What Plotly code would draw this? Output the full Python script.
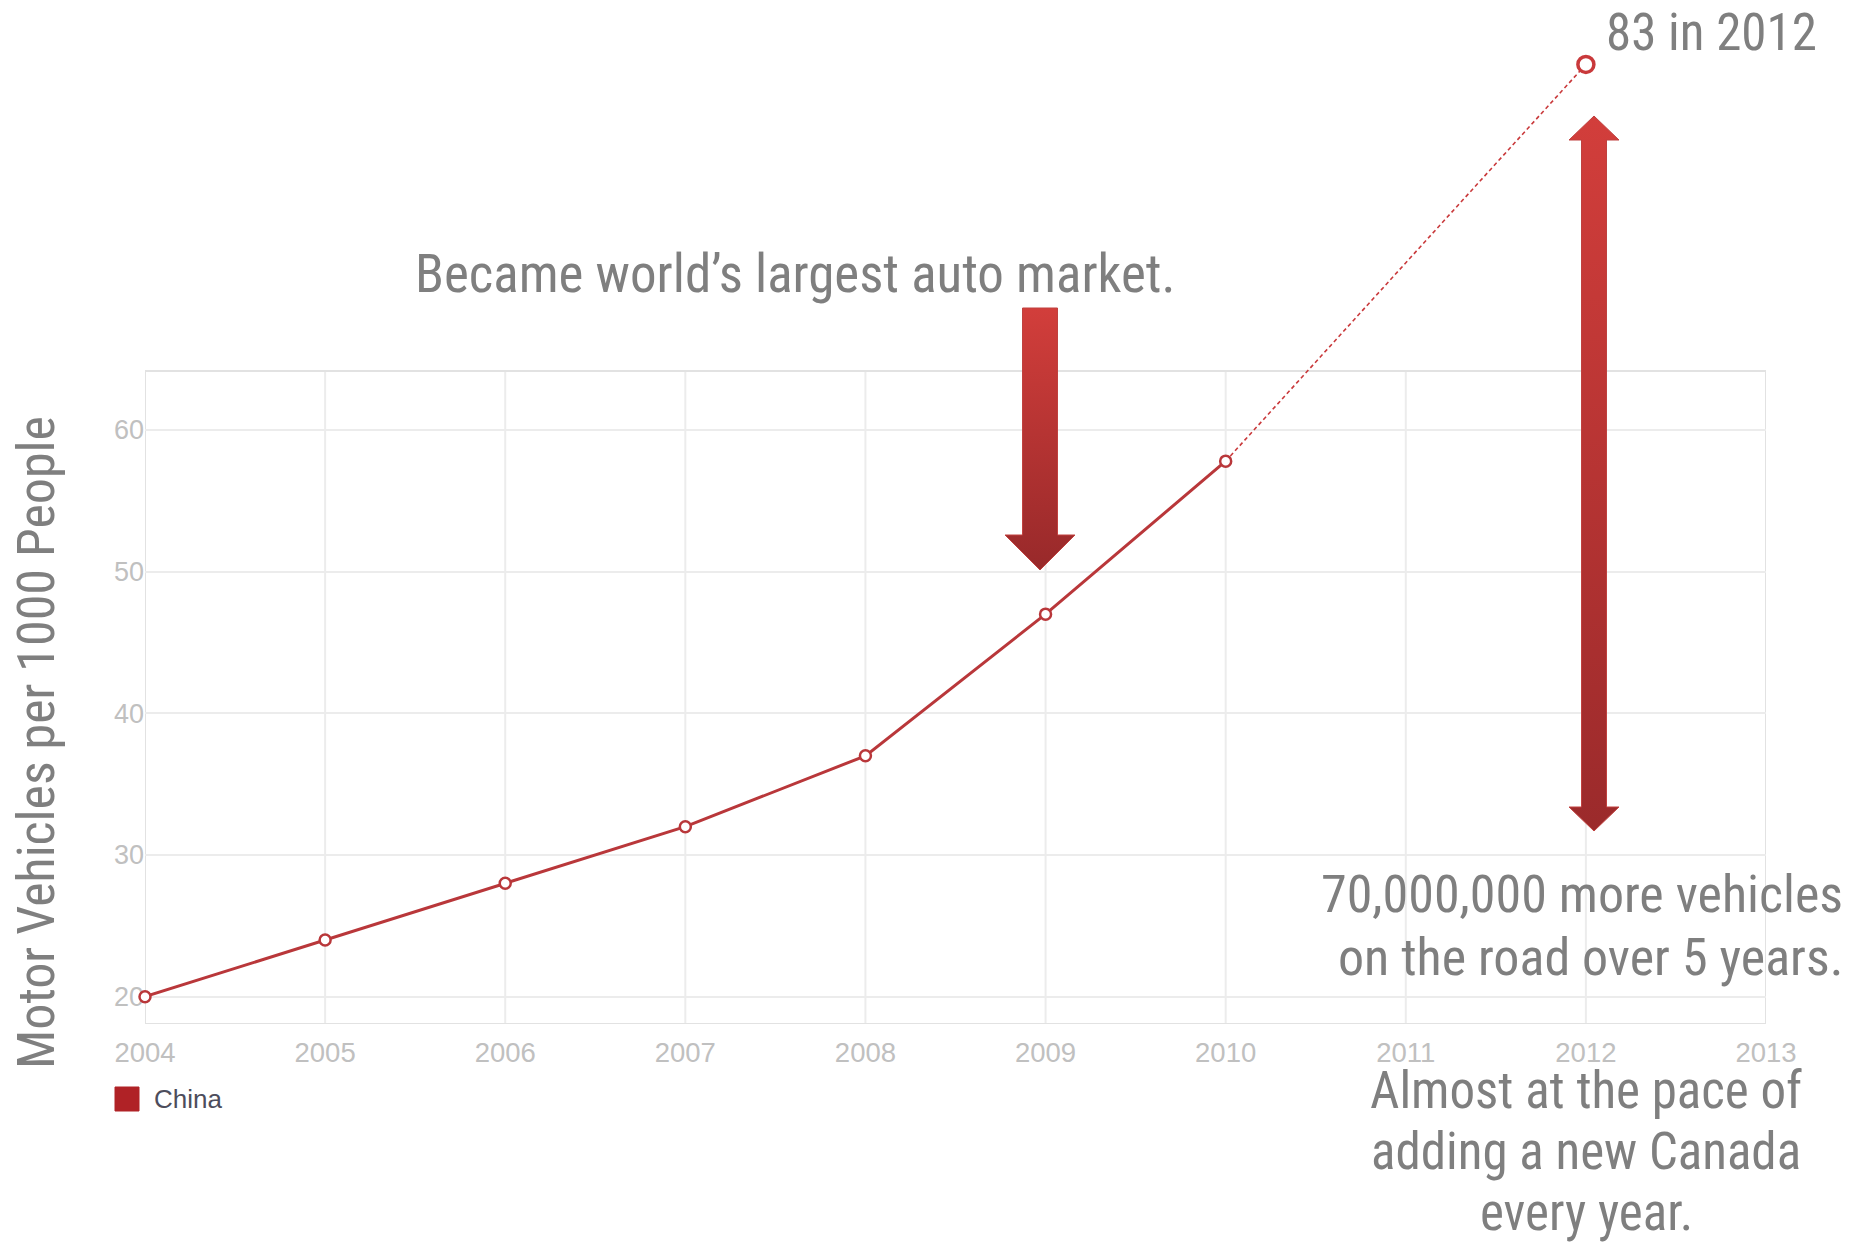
import plotly.graph_objects as go

# ---------------- data ----------------
years = [2004, 2005, 2006, 2007, 2008, 2009, 2010]
china_vehicles_per_1000 = [20, 24, 28, 32, 37, 47, 57.8]
projection_years = [2010, 2012]
projection_values = [57.8, 85.8]          # hand-drawn projection as pictured (label reads 83)
projection_label = "83 in 2012"
x_ticks = [2004, 2005, 2006, 2007, 2008, 2009, 2010, 2011, 2012, 2013]
y_ticks = [20, 30, 40, 50, 60]
series_name = "China"
y_title = "Motor Vehicles per 1000 People"
note_market = "Became world\u2019s largest auto market."
note_growth = ["70,000,000 more vehicles", "on the road over 5 years."]
note_canada = ["Almost at the pace of", "adding a new Canada", "every year."]

# ---------------- layout geometry ----------------
W, H = 1870, 1244
PX_L, PX_R, PX_T, PX_B = 145, 1766, 0, 1024
X0, X1 = 2004, 2013
Y0, Y1 = 18.07, 90.35
FRAME_TOP = 64.16


def dx(px):
    return X0 + (px - PX_L) / (PX_R - PX_L) * (X1 - X0)


def dy(py):
    return Y0 + (PX_B - py) / (PX_B - PX_T) * (Y1 - Y0)


def paper_x(px):
    return (px - PX_L) / (PX_R - PX_L)


def paper_y(py):
    return (PX_B - py) / (PX_B - PX_T)


NARROW = "Liberation Sans Narrow, Arial Narrow, Roboto Condensed, sans-serif"
SANS = "Liberation Sans, Arial, sans-serif"
TEXT_GRAY = "#7f7f7f"
RED = "#b9373a"

fig = go.Figure()


def arrow_polygon(cx, tip_top, head_top, tail_bot, head_bot, shaft_half, head_half, up=False, down=True):
    """Build polygon (pixel coords) for an arrow, convert to data coords."""
    pts = []
    if up:
        pts += [(cx, tip_top), (cx + head_half, head_top), (cx + shaft_half, head_top)]
    else:
        pts += [(cx + shaft_half, tip_top)]
    if down:
        pts += [(cx + shaft_half, head_bot), (cx + head_half, head_bot), (cx, tail_bot),
                (cx - head_half, head_bot), (cx - shaft_half, head_bot)]
    else:
        pts += [(cx + shaft_half, tail_bot), (cx - shaft_half, tail_bot)]
    if up:
        pts += [(cx - shaft_half, head_top), (cx - head_half, head_top), (cx, tip_top)]
    else:
        pts += [(cx - shaft_half, tip_top), (cx + shaft_half, tip_top)]
    xs = [dx(p[0]) for p in pts]
    ys = [dy(p[1]) for p in pts]
    return xs, ys


# down arrow (2009)
ax, ay = arrow_polygon(1040, 308, None, 570, 535, 17.5, 35, up=False, down=True)
fig.add_trace(go.Scatter(
    x=ax, y=ay, mode="lines", fill="toself",
    line=dict(color="#c0413f", width=1),
    fillgradient=dict(type="vertical", colorscale=[[0, "#98292a"], [1, "#d23e3b"]],
                      start=dy(570), stop=dy(308)),
    hoverinfo="skip", showlegend=False))

# double arrow (2012)
bx, by = arrow_polygon(1594, 116, 140, 831, 807, 12.5, 25, up=True, down=True)
fig.add_trace(go.Scatter(
    x=bx, y=by, mode="lines", fill="toself",
    line=dict(color="#c0413f", width=1),
    fillgradient=dict(type="vertical", colorscale=[[0, "#9b2a2b"], [1, "#d23e3b"]],
                      start=dy(831), stop=dy(116)),
    hoverinfo="skip", showlegend=False))

# projection dotted line
fig.add_trace(go.Scatter(
    x=projection_years, y=projection_values, mode="lines",
    line=dict(color="#c9393b", width=1.6, dash="4px,3px"),
    hoverinfo="skip", showlegend=False))

# projection marker
fig.add_trace(go.Scatter(
    x=projection_years[1:], y=projection_values[1:], mode="markers",
    marker=dict(symbol="circle", size=16, color="white", line=dict(color="#c9393b", width=3.5)),
    cliponaxis=False, showlegend=False))

# main series
fig.add_trace(go.Scatter(
    x=years, y=china_vehicles_per_1000, mode="lines+markers", name=series_name,
    line=dict(color=RED, width=3),
    marker=dict(symbol="circle", size=11, color="white", line=dict(color=RED, width=2.5)),
    cliponaxis=False, showlegend=False))

shapes = []
# vertical grid lines inside the frame
for xv in x_ticks[1:-1]:
    shapes.append(dict(type="line", xref="x", yref="y", x0=xv, x1=xv, y0=Y0, y1=FRAME_TOP,
                       line=dict(color="#ececec", width=2), layer="below"))
# frame
shapes.append(dict(type="rect", xref="x", yref="y", x0=X0, x1=X1, y0=Y0, y1=FRAME_TOP,
                   line=dict(color="#e2e2e2", width=2), layer="below"))
# legend swatch
shapes.append(dict(type="rect", xref="paper", yref="paper",
                   x0=paper_x(115), x1=paper_x(139), y0=paper_y(1111), y1=paper_y(1087),
                   fillcolor="#b02226", line=dict(color="#b02226", width=1)))

annotations = []
# legend label
annotations.append(dict(text=series_name, xref="paper", yref="paper", x=paper_x(152), y=paper_y(1099),
                        xanchor="left", yanchor="middle", showarrow=False,
                        font=dict(family=SANS, size=26, color="#4d4d5c")))
# y title
annotations.append(dict(text=y_title, xref="paper", yref="paper", x=paper_x(36), y=paper_y(743),
                        textangle=-90, xanchor="center", yanchor="middle", showarrow=False,
                        font=dict(family=NARROW, size=52, color=TEXT_GRAY)))
# market note
annotations.append(dict(text=note_market, xref="paper", yref="paper", x=paper_x(795), y=paper_y(274),
                        xanchor="center", yanchor="middle", showarrow=False,
                        font=dict(family=NARROW, size=53, color=TEXT_GRAY)))
# projection label
annotations.append(dict(text=projection_label, xref="paper", yref="paper", x=paper_x(1711), y=paper_y(32),
                        xanchor="center", yanchor="middle", showarrow=False,
                        font=dict(family=NARROW, size=51, color=TEXT_GRAY)))
# growth note
for i, line in enumerate(note_growth):
    annotations.append(dict(text=line, xref="paper", yref="paper", x=paper_x(1845), y=paper_y(894 + 63 * i),
                            xanchor="right", yanchor="middle", showarrow=False,
                            font=dict(family=NARROW, size=52, color=TEXT_GRAY)))
# canada note
for i, line in enumerate(note_canada):
    annotations.append(dict(text=line, xref="paper", yref="paper", x=paper_x(1586), y=paper_y(1090 + 61 * i),
                            xanchor="center", yanchor="middle", showarrow=False, borderpad=0,
                            font=dict(family=NARROW, size=51, color=TEXT_GRAY)))

fig.update_layout(
    width=W, height=H,
    margin=dict(l=PX_L, r=W - PX_R, t=PX_T, b=H - PX_B, pad=0),
    paper_bgcolor="white", plot_bgcolor="white",
    showlegend=False,
    shapes=shapes, annotations=annotations,
    xaxis=dict(range=[X0, X1], tickvals=x_ticks, ticktext=[str(v) for v in x_ticks],
               showgrid=False, zeroline=False, showline=False, ticks="",
               ticklabelstandoff=9,
               tickfont=dict(family=SANS, size=27.5, color="#c0c0c0")),
    yaxis=dict(range=[Y0, Y1], tickvals=y_ticks, ticktext=[str(v) for v in y_ticks],
               showgrid=True, gridcolor="#ececec", gridwidth=2, zeroline=False, showline=False,
               ticks="", ticklabelstandoff=0, layer="below traces",
               tickfont=dict(family=SANS, size=27, color="#c0c0c0")),
)

fig.write_html("out.html")
